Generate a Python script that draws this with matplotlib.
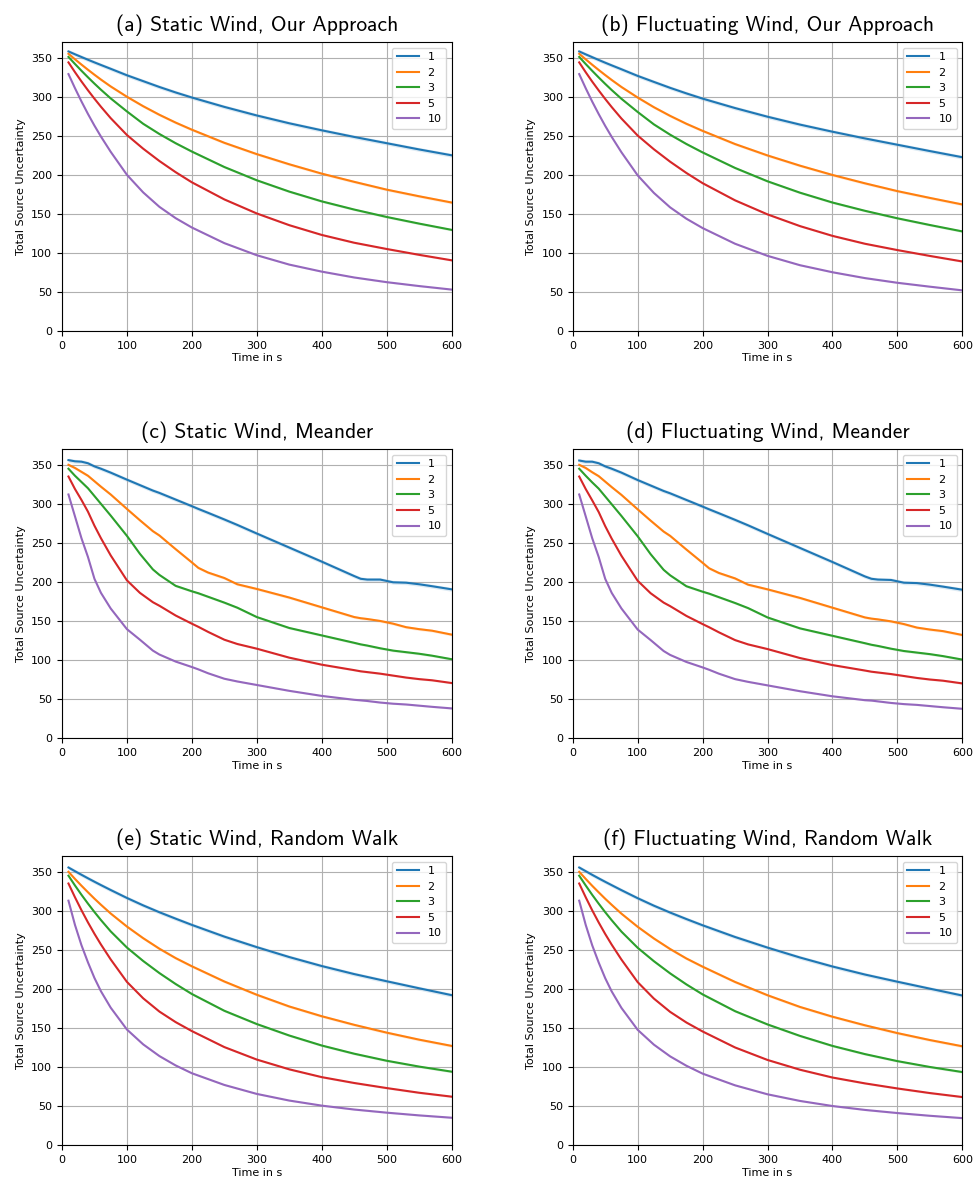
import matplotlib
matplotlib.use("Agg")
import matplotlib.pyplot as plt

labels = ["1", "2", "3", "5", "10"]
colors = ["tab:blue", "tab:orange", "tab:green", "tab:red", "tab:purple"]

# time samples (s)
t = [10, 20, 30, 40, 50, 60, 75, 100, 125, 150, 175, 200, 250, 300, 350, 400, 450, 500, 550, 600]
t_meander = [10, 20, 30, 40, 50, 60, 75, 100, 120, 140, 150, 175, 200, 210, 225, 250, 270, 300,
             350, 400, 450, 460, 470, 490, 510, 530, 550, 570, 600]

# (a) static wind, our approach
static_ours = {
    "1": [358, 354.4, 350.9, 347.4, 344, 340.7, 335.8, 327.5, 320, 312.5, 305.5, 299, 287, 276, 266, 257, 248.5, 240.5, 232.5, 225],
    "2": [355, 348, 341.2, 334.6, 328.2, 322, 313.2, 300, 287.9, 276.9, 266.9, 257.8, 241, 226.5, 213.5, 201.5, 191, 181, 172.5, 164.5],
    "3": [351, 342, 333.3, 324.9, 316.8, 309, 297.9, 281.2, 265.4, 252.3, 240.5, 229.8, 210, 193, 178.5, 166, 155.5, 146, 137.5, 129.5],
    "5": [344, 331.5, 319.6, 308.3, 297.5, 287.2, 272.6, 251, 233.5, 217.7, 203.4, 190.4, 168.5, 150.5, 135.5, 123, 113, 105, 97.5, 90.5],
    "10": [329, 311, 294, 278, 263, 249, 229.5, 200, 177.5, 159, 144.5, 132.5, 112.5, 97, 85, 76, 68.5, 62.5, 57.5, 53],
}
# (b) fluctuating wind, our approach
fluct_ours = {
    "1": [358, 354.3, 350.7, 347.1, 343.6, 340.2, 335.2, 326.7, 319, 311.4, 304.3, 297.6, 285.5, 274.4, 264.3, 255.2, 246.6, 238.5, 230.4, 222.5],
    "2": [355, 347.9, 341, 334.3, 327.8, 321.5, 312.5, 299, 286.6, 275.5, 265.4, 256.3, 239.4, 224.8, 211.7, 199.8, 189.1, 179.1, 170.4, 162],
    "3": [351, 341.9, 333.2, 324.7, 316.5, 308.6, 297.4, 280.5, 264.6, 251.4, 239.5, 228.7, 208.8, 191.7, 177.1, 164.5, 153.9, 144.3, 135.7, 127.5],
    "5": [344, 331.4, 319.4, 308.1, 297.2, 286.8, 272.1, 250.3, 232.7, 216.8, 202.4, 189.3, 167.3, 149.3, 134.3, 121.8, 111.7, 103.6, 96.1, 89],
    "10": [329, 310.9, 293.8, 277.8, 262.7, 248.6, 228.9, 199.3, 176.8, 158.3, 143.8, 131.8, 111.7, 96.2, 84.2, 75.2, 67.7, 61.7, 56.7, 52],
}
# (c) static wind, meander
static_meander = {
    "1": [356, 354.5, 354, 352, 348, 345, 340, 331, 324, 317, 314, 305.5, 297, 293.5, 288.5, 280, 273, 262,
          244, 226, 207.5, 204, 203, 203, 199.5, 199, 197, 194.5, 190.5],
    "2": [350, 346, 341, 336, 329, 322, 312, 293.5, 279, 265, 259.5, 242, 225, 218, 212, 205, 197, 191,
          180, 167.5, 155, 153.5, 152.5, 150, 146.5, 142, 139.5, 137.5, 132.5],
    "3": [345, 336, 328, 320, 310, 300, 285, 259, 236, 216, 209, 195, 188, 185.5, 181, 173.5, 167, 155,
          141, 131.5, 122, 120, 118.5, 115, 112, 110, 108, 105.5, 101],
    "5": [335, 319, 305, 290, 272, 256, 234, 202, 186, 174, 169.5, 157, 146.5, 142.5, 136, 126, 120.5, 114.5,
          103, 94, 87, 85.5, 84.5, 82.5, 80, 77.5, 75.5, 74, 70.5],
    "10": [312, 284, 256, 232, 204, 186, 166, 139.5, 126, 112, 107, 98, 91, 88, 83, 76, 72.5, 68,
           60.5, 54, 49, 48.3, 47.5, 45.5, 44, 43, 41.5, 40, 38],
}
# (d) fluctuating wind, meander
fluct_meander = {
    "1": [355.5, 354, 354, 352, 348, 345, 340, 330.5, 323.5, 316.5, 313.5, 305, 296.5, 293, 288, 279.5, 272.5, 261.5,
          243.5, 225.5, 207, 204, 203, 202.5, 199, 198.5, 196.5, 194, 190],
    "2": [350, 346, 340.5, 335.5, 328.5, 321.5, 311.5, 293, 278.5, 264.5, 259, 241.5, 224.5, 217.5, 211.5, 204.5, 196.5, 190.5,
          179.5, 167, 154.5, 153, 152, 149.5, 146, 141.5, 139, 137, 132],
    "3": [345, 336, 327.5, 319.5, 309.5, 299.5, 284.5, 258.5, 235.5, 215.5, 208.5, 194.5, 187.5, 185, 180.5, 173, 166.5, 154.5,
          140.5, 131, 121.5, 119.5, 118, 114.5, 111.5, 109.5, 107.5, 105, 100.5],
    "5": [335, 319, 304.5, 289.5, 271.5, 255.5, 233.5, 201.5, 185.5, 173.5, 169, 156.5, 146, 142, 135.5, 125.5, 120, 114,
          102.5, 93.5, 86.5, 85, 84, 82, 79.5, 77, 75, 73.5, 70],
    "10": [312, 284, 256, 232, 204, 186, 166, 139, 125.5, 111.5, 106.5, 97.5, 90.5, 87.5, 82.5, 75.5, 72, 67.5,
           60, 53.5, 48.5, 48, 47, 45, 43.5, 42.5, 41, 39.5, 37.5],
}
# (e) static wind, random walk
static_walk = {
    "1": [355.5, 350.8, 346.2, 341.7, 337.3, 333, 326.7, 316.5, 307, 298.2, 290, 282, 267, 253.5, 240.8, 229.3, 219, 209.8, 200.8, 192],
    "2": [350, 340.9, 332.2, 323.8, 315.6, 307.8, 296.6, 279.9, 265, 251.5, 239.5, 229, 209.5, 192.5, 177.5, 165, 154, 144, 135, 127],
    "3": [345, 332.5, 320.6, 309.3, 298.5, 288.2, 273.7, 253, 235.8, 220.3, 206.3, 193.5, 172, 155, 140.3, 127.5, 117, 108, 100.5, 94],
    "5": [335, 317.4, 300.8, 285.2, 270.6, 256.9, 237.8, 209, 188, 171, 157.5, 146, 125.5, 109.5, 97, 87, 79.5, 73, 67, 62],
    "10": [313, 282, 256, 234, 214, 197, 176, 148, 129, 114, 102, 92, 77, 65.5, 57, 50.5, 45.5, 41.5, 38, 35],
}
# (f) fluctuating wind, random walk
fluct_walk = {
    "1": [355.5, 350.8, 346.1, 341.6, 337.2, 332.9, 326.5, 316.2, 306.6, 297.8, 289.5, 281.5, 266.5, 252.9, 240.2, 228.7, 218.4, 209.2, 200.3, 191.5],
    "2": [350, 340.9, 332.1, 323.7, 315.5, 307.7, 296.4, 279.6, 264.6, 251.1, 239, 228.5, 208.9, 191.9, 176.9, 164.4, 153.4, 143.4, 134.5, 126.5],
    "3": [345, 332.5, 320.5, 309.2, 298.3, 288, 273.4, 252.7, 235.5, 219.9, 205.8, 193, 171.5, 154.5, 139.8, 127, 116.5, 107.5, 100, 93.5],
    "5": [335, 317.4, 300.7, 285.1, 270.4, 256.7, 237.6, 208.7, 187.6, 170.6, 157, 145.5, 125, 109, 96.5, 86.5, 79, 72.5, 66.6, 61.5],
    "10": [313, 282, 255.9, 233.8, 213.8, 196.8, 175.7, 147.6, 128.6, 113.6, 101.6, 91.5, 76.5, 65, 56.5, 50, 45, 41, 37.5, 34.5],
}
# faint confidence band half-width per series
spread = [2.5, 1.8, 1.5, 1.2, 1.0]

panels = [
    ("(a) Static Wind, Our Approach", t, static_ours),
    ("(b) Fluctuating Wind, Our Approach", t, fluct_ours),
    ("(c) Static Wind, Meander", t_meander, static_meander),
    ("(d) Fluctuating Wind, Meander", t_meander, fluct_meander),
    ("(e) Static Wind, Random Walk", t, static_walk),
    ("(f) Fluctuating Wind, Random Walk", t, fluct_walk),
]

fig = plt.figure(figsize=(9.79, 11.79), dpi=100)
lefts = [0.0633, 0.585]
bottoms = [0.7193, 0.374, 0.0288]
w, h = 0.398, 0.245

for i, (title, x, data) in enumerate(panels):
    ax = fig.add_axes([lefts[i % 2], bottoms[i // 2], w, h])
    for lab, col, s in zip(labels, colors, spread):
        y = data[lab]
        ax.fill_between(x, [v - s for v in y], [v + s for v in y], color=col, alpha=0.15, linewidth=0)
        ax.plot(x, y, color=col, label=lab, linewidth=1.5)
    ax.set_xlim(0, 600)
    ax.set_ylim(0, 370)
    ax.set_xticks(range(0, 601, 100))
    ax.set_yticks(range(0, 351, 50))
    ax.tick_params(labelsize=8)
    ax.grid(True)
    ax.set_xlabel("Time in s", fontsize=8, labelpad=2)
    ax.set_ylabel("Total Source Uncertainty", fontsize=8)
    ax.set_title(title, fontsize=15.5, family="cmss10", pad=8)
    ax.legend(loc="upper right", fontsize=8)

fig.savefig("out.png", dpi=100)
